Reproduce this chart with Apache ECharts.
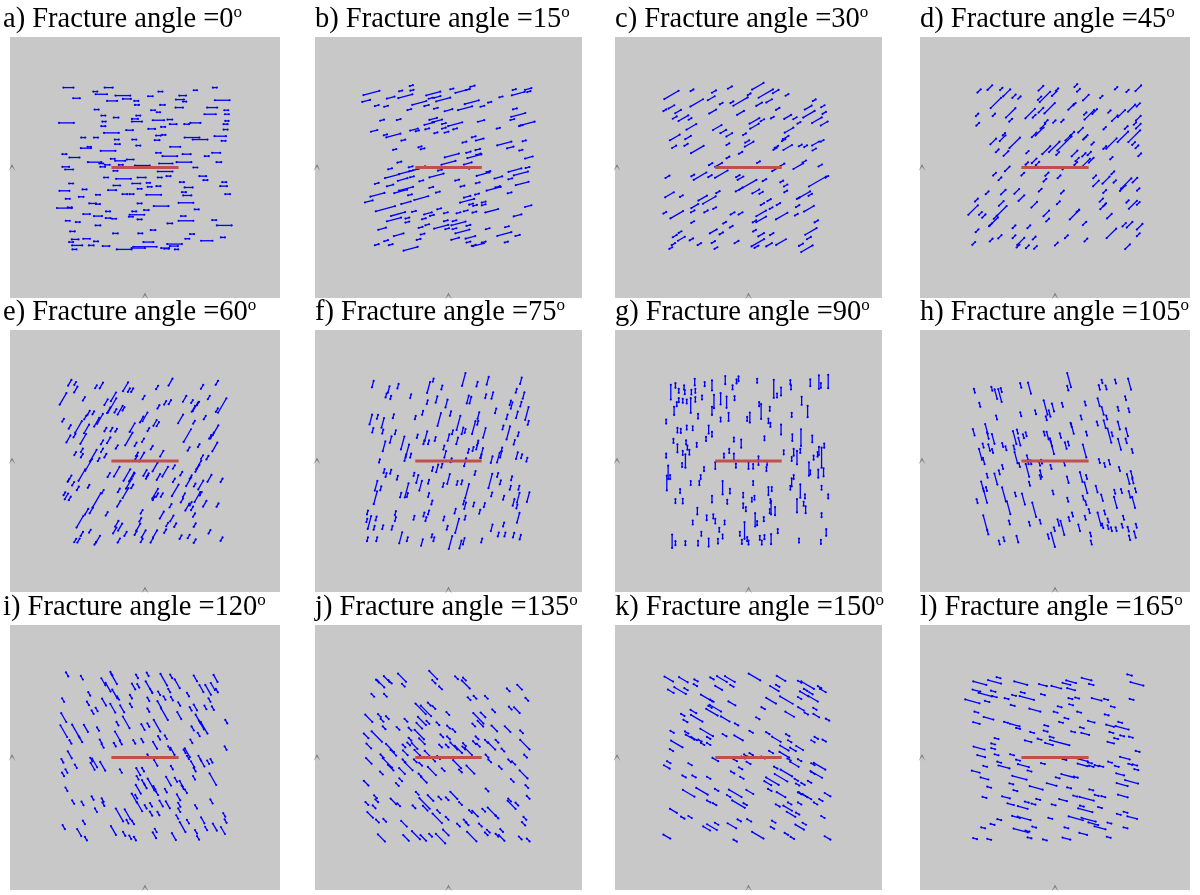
<!DOCTYPE html>
<html>
<head>
<meta charset="utf-8">
<title>Fracture angle panels</title>
<script src="https://cdn.jsdelivr.net/npm/echarts@6/dist/echarts.min.js"></script>
<style>
  html, body { margin: 0; padding: 0; background: #fff; }
  #chart { width: 1200px; height: 895px; }
</style>
</head>
<body>
<div id="chart"></div>
<script>
// panel labels and fracture orientation (degrees from horizontal)
const panelLabels = ['a', 'b', 'c', 'd', 'e', 'f', 'g', 'h', 'i', 'j', 'k', 'l'];
const angles = [0, 15, 30, 45, 60, 75, 90, 105, 120, 135, 150, 165];

// horizontal well (m), centred in the domain
const wellX = [-50, 50];

// fractures: [centre x, centre y, length], metres
const fracA = [[-114,120,15],[-54,120,12],[104,120,6],[-74,114,6],[23,114,6],[75,116,5],[-65,110,17],[-33,108,22],[8,107,7],[56,108,10],[-102,104,10],[-27,103,12],[115,101,22],[52,102,12],[-49,100,15],[-13,100,6],[59,99,5],[-12,94,6],[26,94,7],[100,90,15],[51,90,11],[-72,87,6],[12,86,6],[20,83,5],[121,86,6],[97,80,17],[-62,78,6],[-10,78,6],[122,80,6],[-43,75,7],[-15,73,9],[37,72,7],[20,71,17],[-117,67,22],[-61,69,5],[-12,69,15],[75,67,15],[122,70,5],[42,65,10],[62,65,7],[-62,62,6],[27,61,6],[120,65,6],[10,58,10],[-23,56,10],[120,57,6],[-50,52,22],[20,48,7],[28,49,5],[70,45,22],[82,42,22],[112,47,17],[-92,45,6],[-73,45,6],[-16,42,6],[18,41,7],[-42,42,6],[117,40,6],[-41,35,7],[-88,29,15],[-10,33,6],[45,31,15],[-83,31,5],[-55,25,22],[20,22,7],[106,22,12],[62,20,12],[-105,15,15],[-120,20,6],[37,17,22],[92,17,6],[-48,13,6],[-22,12,10],[-75,8,20],[-37,10,15],[58,8,22],[110,8,7],[-65,6,6],[-56,4,7],[-36,4,6],[-4,3,22],[31,6,20],[-118,1,10],[-63,1,7],[75,0,6],[-113,-3,12],[-44,-5,6],[30,-6,22],[-58,-15,6],[-32,-17,22],[-5,-15,12],[22,-15,6],[35,-13,6],[86,-13,10],[90,-19,6],[-110,-24,6],[-13,-24,12],[5,-23,5],[55,-22,6],[118,-22,6],[-42,-27,10],[7,-29,6],[20,-28,6],[65,-30,12],[117,-28,10],[-49,-34,12],[-120,-35,15],[-90,-33,6],[-8,-32,6],[58,-37,6],[-30,-40,7],[-20,-40,6],[13,-41,22],[63,-42,12],[-70,-41,6],[123,-40,7],[-95,-44,7],[-115,-47,6],[-78,-54,10],[-70,-55,6],[-8,-54,6],[24,-58,22],[61,-53,22],[-120,-61,22],[-112,-60,6],[77,-63,6],[-55,-66,6],[-16,-66,6],[2,-64,7],[-87,-70,10],[-70,-73,12],[-12,-71,22],[57,-73,7],[-21,-74,6],[-55,-76,7],[-46,-77,6],[-8,-78,6],[61,-80,22],[103,-79,6],[-115,-80,6],[-100,-82,6],[37,-84,7],[-70,-87,7],[118,-87,22],[12,-94,7],[-108,-96,7],[-44,-99,7],[-7,-99,6],[70,-100,6],[-104,-108,10],[-87,-107,10],[63,-107,6],[92,-110,17],[116,-105,6],[-110,-112,6],[-73,-111,6],[5,-112,15],[44,-115,22],[-101,-117,15],[-80,-117,7],[-58,-118,10],[0,-119,35],[43,-118,12],[30,-121,12],[-105,-123,6],[-31,-123,22],[-10,-121,20],[32,-122,7],[47,-123,5]];

const fracB = [[-116,112,25],[-124,100,12],[-87,105,12],[-65,107,22],[-72,115,5],[-55,116,5],[-56,123,5],[-23,111,22],[-17,106,10],[-27,104,6],[-8,102,22],[5,118,5],[21,115,22],[36,122,7],[29,117,6],[35,98,22],[62,98,5],[79,106,5],[99,117,5],[120,118,10],[105,111,20],[121,114,5],[-44,97,22],[-33,93,7],[-19,89,6],[-108,93,6],[-94,92,6],[-59,87,6],[0,86,12],[25,89,22],[51,92,6],[100,88,6],[105,79,22],[96,72,6],[-100,71,6],[-75,72,6],[-23,73,12],[-17,70,15],[-29,66,15],[-7,66,6],[10,65,22],[49,70,10],[119,66,22],[109,63,6],[-112,55,10],[-83,48,22],[-95,49,5],[-52,57,12],[-47,55,5],[-32,58,6],[-19,52,5],[-7,59,6],[-3,53,6],[10,58,6],[-68,41,6],[75,59,5],[38,46,6],[47,42,12],[24,38,6],[84,36,22],[93,30,10],[114,40,5],[-81,27,5],[-43,31,5],[-39,28,6],[30,23,7],[44,27,7],[109,26,5],[5,18,22],[39,17,22],[45,20,7],[121,15,12],[-74,8,6],[0,7,22],[29,6,12],[-88,-2,6],[-52,-4,15],[-64,-7,22],[-57,1,6],[-38,1,6],[34,-1,6],[45,0,6],[100,-4,20],[119,0,6],[-85,-13,22],[-69,-18,15],[-55,-14,6],[-18,-12,22],[-13,-4,6],[52,-10,20],[60,-6,6],[75,-15,12],[93,-17,6],[109,-9,22],[-108,-24,6],[-88,-27,10],[-64,-32,22],[-72,-36,20],[-41,-20,6],[-26,-30,6],[13,-19,6],[21,-28,6],[44,-23,6],[68,-32,22],[74,-29,7],[111,-24,20],[-107,-41,22],[-58,-41,6],[-41,-46,22],[-16,-37,6],[28,-44,10],[43,-40,6],[92,-38,6],[-120,-51,12],[-64,-53,15],[28,-50,22],[34,-55,6],[40,-57,6],[53,-52,6],[53,-56,6],[-95,-62,30],[-52,-66,6],[-31,-69,12],[-14,-62,6],[-4,-68,6],[15,-68,6],[26,-65,6],[39,-67,6],[65,-65,20],[104,-72,12],[120,-58,10],[-76,-70,22],[-82,-78,22],[-62,-76,6],[-62,-82,6],[-37,-77,6],[-32,-86,6],[-25,-72,6],[-4,-80,6],[9,-80,6],[30,-87,6],[15,-84,22],[-11,-89,22],[-100,-92,12],[-42,-90,6],[-2,-92,6],[9,-92,6],[21,-96,22],[59,-92,6],[88,-89,6],[84,-100,22],[-75,-101,15],[-39,-100,6],[33,-105,15],[10,-107,12],[104,-102,7],[-94,-110,6],[-87,-116,6],[-45,-108,6],[-108,-116,6],[-57,-122,22],[30,-112,6],[45,-116,17],[53,-112,6],[38,-117,6],[87,-112,5]];

const fracC = [[-116,109,25],[-85,116,5],[-52,114,7],[-28,120,7],[14,122,20],[1,110,5],[26,111,25],[41,114,10],[31,100,10],[58,109,5],[99,101,5],[-78,97,22],[-56,104,12],[-41,96,5],[-25,98,5],[-12,99,25],[16,95,10],[-116,91,10],[-126,86,5],[-106,84,10],[-111,75,7],[-98,74,17],[-88,73,5],[-54,84,12],[-12,82,12],[44,88,6],[90,90,12],[112,92,6],[91,80,20],[114,82,6],[9,70,17],[21,71,6],[36,75,5],[59,76,12],[70,74,6],[76,67,5],[103,71,17],[114,66,12],[-86,61,17],[-47,60,15],[-38,54,10],[-29,49,10],[9,62,15],[61,56,15],[56,45,10],[53,41,6],[-111,45,17],[-91,45,10],[-94,34,6],[-112,31,7],[-77,27,22],[-31,35,5],[-6,50,5],[-2,39,7],[1,35,15],[-12,22,6],[42,31,6],[40,28,6],[59,30,15],[78,33,5],[86,32,5],[101,36,12],[111,40,5],[99,27,6],[-31,15,5],[-57,5,6],[15,8,5],[40,-3,10],[51,4,7],[75,2,17],[84,9,6],[108,3,6],[-45,4,12],[-41,-10,22],[-73,-13,22],[-84,-12,5],[-58,-13,6],[-122,-14,7],[-16,-13,6],[-12,-16,10],[-1,-26,30],[24,-19,6],[-14,-33,12],[11,-36,12],[19,-38,6],[50,-21,5],[56,-27,6],[56,-36,5],[104,-21,30],[118,-14,5],[-69,-46,15],[-59,-49,22],[-46,-37,6],[-119,-41,15],[-101,-43,5],[84,-41,20],[93,-41,6],[75,-46,5],[31,-49,6],[21,-55,6],[34,-61,5],[45,-55,6],[74,-58,6],[91,-62,17],[-81,-58,12],[-84,-66,6],[-64,-66,6],[-51,-61,5],[-126,-68,5],[-108,-71,22],[-24,-69,7],[-12,-69,7],[19,-69,17],[19,-78,17],[50,-73,20],[-84,-82,5],[-36,-83,5],[-26,-89,5],[9,-81,6],[72,-71,5],[102,-81,6],[-111,-103,7],[-103,-97,5],[-101,-107,12],[-113,-115,6],[-117,-121,5],[-86,-108,6],[-53,-96,12],[-41,-99,6],[-74,-115,6],[-53,-112,6],[-49,-121,5],[-18,-112,7],[9,-95,5],[19,-101,10],[35,-100,6],[14,-113,22],[12,-119,7],[31,-116,10],[49,-112,17],[94,-96,20],[91,-106,7],[79,-116,7],[88,-122,20]];

const fracD = [[-113,115,7],[-97,120,10],[-80,118,5],[-72,112,15],[-61,107,7],[-53,105,5],[-88,97,22],[-66,82,20],[-66,71,6],[-21,119,10],[-23,104,7],[-15,106,22],[-1,111,10],[3,117,5],[-37,81,20],[-31,77,6],[-21,86,10],[-8,89,22],[31,123,6],[35,116,6],[46,105,12],[69,106,5],[24,91,12],[29,95,5],[51,79,20],[59,84,10],[45,81,5],[91,119,5],[108,115,5],[124,119,12],[81,84,5],[89,74,12],[99,81,15],[114,89,15],[124,94,7],[124,74,10],[119,66,5],[-116,79,5],[-115,65,6],[-91,79,5],[-13,69,6],[-18,62,10],[-23,54,17],[-31,49,10],[-1,69,5],[11,70,5],[38,56,10],[26,51,7],[44,44,6],[74,59,5],[106,60,6],[124,62,10],[118,47,25],[101,46,22],[84,36,22],[74,30,6],[117,36,6],[122,31,6],[126,19,6],[-92,39,12],[-78,44,12],[-76,50,5],[-60,37,22],[-86,25,6],[-73,21,10],[-41,23,5],[-31,10,10],[-26,6,7],[-13,26,17],[-1,31,22],[14,36,30],[19,44,10],[4,21,6],[29,21,12],[33,12,7],[31,6,6],[43,19,7],[46,7,17],[51,21,7],[54,11,10],[56,36,5],[46,46,7],[84,14,5],[-90,-10,6],[-82,-17,6],[-71,-2,10],[-48,-10,6],[-42,6,5],[-12,-10,7],[-15,-19,6],[6,-14,6],[13,-1,5],[59,-14,6],[61,-24,12],[76,-19,15],[86,-8,6],[89,-21,5],[106,-24,22],[101,-31,12],[119,-19,10],[124,-33,5],[-101,-38,6],[-77,-37,10],[-57,-36,10],[-50,-46,12],[-22,-34,6],[11,-37,6],[74,-36,6],[69,-49,7],[71,-59,10],[74,-56,6],[-122,-64,20],[-117,-49,6],[-111,-69,6],[-106,-73,7],[-80,-54,10],[-79,-65,20],[-89,-75,6],[-96,-86,6],[-91,-81,17],[-31,-56,12],[5,-53,6],[-13,-69,12],[-11,-79,6],[29,-71,20],[34,-65,5],[44,-84,7],[81,-73,10],[108,-51,5],[116,-56,17],[124,-54,6],[103,-86,7],[111,-86,12],[126,-89,12],[124,-101,6],[84,-99,20],[-116,-95,6],[-121,-114,6],[-95,-109,6],[-82,-104,7],[-61,-89,6],[-39,-89,6],[-61,-104,6],[-51,-111,15],[-55,-118,6],[-41,-119,6],[-31,-106,6],[-29,-120,6],[2,-115,6],[17,-104,6],[46,-109,6],[108,-119,10]];

const fracE = [[-112,117,10],[-104,116,5],[-122,93,20],[-103,107,10],[-73,111,5],[-65,113,10],[-91,93,6],[-29,111,15],[-24,106,6],[-19,106,6],[-2,95,6],[18,110,6],[38,118,12],[85,111,7],[107,117,7],[95,95,6],[59,93,10],[70,89,5],[79,86,6],[75,81,15],[72,78,10],[115,83,25],[107,76,6],[30,87,6],[37,88,7],[20,81,6],[-58,88,10],[-47,96,15],[-54,76,10],[-44,75,6],[-37,76,15],[-32,78,6],[-49,83,25],[-84,72,7],[-77,72,5],[-89,65,6],[-67,63,17],[-72,58,15],[-99,51,20],[-87,48,15],[-92,33,17],[-112,51,6],[-105,38,6],[-114,33,12],[-122,61,5],[-59,47,6],[-50,47,6],[-43,46,5],[-19,50,15],[-24,33,22],[-3,31,6],[-5,62,10],[0,66,15],[15,57,10],[19,55,7],[5,47,5],[53,63,15],[73,58,5],[63,38,22],[89,65,6],[100,38,10],[105,46,17],[97,36,6],[-64,28,7],[-54,31,10],[-42,21,6],[-14,25,6],[10,20,6],[25,11,10],[65,18,6],[80,23,5],[104,21,15],[-104,11,5],[-94,16,6],[-94,8,6],[-77,8,20],[-64,16,6],[-59,8,6],[-69,2,5],[-84,-6,20],[-12,10,6],[-5,6,15],[-13,5,6],[85,6,6],[93,5,6],[80,-6,15],[78,-11,12],[-94,-21,20],[-112,-26,10],[-107,-34,6],[-114,-29,5],[-84,-38,5],[-100,-41,6],[-54,-21,7],[-42,-16,17],[-39,-44,6],[-27,-21,20],[-20,-24,15],[-17,-21,6],[-24,-34,17],[-19,-38,6],[0,-18,10],[3,-24,6],[4,-21,6],[15,-9,15],[20,-24,10],[30,-16,17],[43,-9,6],[43,-29,6],[54,-19,6],[65,-31,15],[68,-24,6],[74,-36,5],[83,-36,15],[96,-26,12],[114,-29,6],[-63,-46,6],[-72,-59,25],[-80,-74,10],[-117,-53,10],[-120,-49,5],[-112,-56,6],[-29,-48,17],[-39,-64,10],[-57,-79,6],[15,-49,17],[13,-56,6],[25,-51,6],[18,-51,6],[45,-44,20],[58,-51,6],[55,-59,7],[63,-69,12],[68,-64,6],[78,-54,17],[83,-49,6],[89,-64,10],[70,-71,6],[108,-66,6],[38,-67,6],[-5,-76,6],[-7,-88,6],[-10,-99,12],[25,-81,12],[40,-86,10],[33,-95,6],[45,-96,6],[74,-96,6],[73,-81,6],[-97,-91,20],[-87,-76,10],[-82,-105,5],[-42,-94,10],[-37,-99,12],[-45,-104,10],[-29,-109,7],[-39,-119,7],[-70,-117,12],[-74,-123,5],[-94,-109,7],[-99,-119,7],[-104,-119,6],[-14,-108,6],[-2,-109,12],[-5,-119,6],[15,-109,12],[10,-119,7],[30,-105,6],[53,-114,6],[65,-113,6],[74,-120,6],[96,-106,6],[114,-117,6]];

const fracF = [[-114,115,10],[-90,107,10],[-94,98,6],[-87,95,5],[-76,112,7],[-57,97,6],[-30,110,17],[-23,121,5],[-32,88,6],[-18,92,10],[-10,110,6],[-3,86,12],[23,122,20],[43,115,7],[59,120,12],[66,98,10],[56,97,6],[29,92,12],[33,91,10],[109,120,10],[102,105,6],[113,98,10],[93,87,7],[109,85,7],[-117,62,15],[-107,66,6],[-99,57,15],[-114,46,7],[-83,67,6],[-50,65,5],[-39,72,6],[-14,62,20],[3,71,7],[15,57,22],[6,43,6],[0,35,10],[21,45,10],[25,45,6],[38,50,20],[45,68,10],[44,57,6],[54,42,15],[71,75,7],[82,50,6],[88,66,7],[90,42,20],[103,69,10],[105,40,6],[120,57,6],[118,71,20],[95,83,10],[-99,44,6],[-80,43,6],[-87,32,10],[-97,22,15],[-69,27,20],[-62,15,20],[-65,5,10],[-57,8,6],[-47,37,5],[-34,37,15],[-37,28,6],[-30,28,6],[-20,33,6],[-7,20,6],[-5,10,10],[4,1,6],[13,30,10],[30,15,6],[37,18,6],[25,-2,12],[43,22,10],[44,27,7],[50,12,15],[49,7,6],[65,2,10],[80,17,6],[75,5,15],[79,10,10],[103,8,10],[110,7,6],[118,2,6],[99,28,7],[-104,0,5],[-97,-15,6],[-94,-21,6],[-87,-16,6],[-77,-25,6],[-24,-12,6],[-17,-11,12],[-10,-7,6],[-52,-20,5],[-47,-27,12],[-42,-37,15],[-30,-31,6],[-8,-36,6],[0,-27,15],[13,-33,6],[20,-32,6],[28,-45,22],[40,-18,6],[63,-30,22],[65,-50,6],[78,-32,6],[74,-21,6],[95,-26,6],[93,-40,6],[106,-40,6],[105,-55,15],[98,-62,10],[103,-68,6],[83,-55,6],[120,-54,15],[-109,-37,15],[-102,-41,6],[-110,-55,20],[-72,-51,7],[-63,-44,22],[-62,-51,6],[-30,-51,6],[-25,-62,6],[10,-75,7],[25,-67,10],[23,-62,6],[38,-65,6],[54,-66,6],[47,-76,6],[-122,-77,6],[-119,-92,20],[-109,-86,6],[-112,-100,6],[-99,-99,6],[-123,-89,5],[-122,-117,6],[-108,-117,6],[-80,-78,6],[-80,-87,6],[-85,-100,6],[-72,-115,17],[-62,-117,6],[-52,-85,6],[-37,-80,6],[-30,-77,6],[-34,-87,6],[-40,-122,10],[-22,-117,6],[-25,-112,5],[-7,-86,6],[-2,-100,6],[3,-122,20],[13,-97,22],[25,-85,6],[23,-120,10],[18,-125,12],[50,-119,6],[65,-100,10],[75,-110,6],[83,-95,6],[85,-110,6],[98,-111,7],[105,-85,15],[108,-114,7]];

const fracG = [[-117,103,22],[-110,113,7],[-105,105,6],[-97,110,6],[-96,103,6],[-86,103,7],[-81,118,10],[-80,105,6],[-66,115,6],[-55,113,15],[-35,121,12],[-24,110,6],[-18,119,6],[-15,123,7],[13,120,6],[38,108,27],[43,98,6],[49,104,12],[63,118,6],[64,110,6],[93,117,10],[106,118,20],[109,113,7],[120,119,20],[-112,75,12],[-108,85,6],[-105,91,6],[-99,90,6],[-93,89,6],[-87,83,22],[-80,92,7],[-70,95,6],[-76,67,7],[-55,75,12],[-52,89,20],[-42,93,17],[-33,88,17],[-21,94,6],[-42,62,6],[-30,66,12],[-2,63,6],[2,65,15],[19,74,22],[16,85,6],[32,78,6],[30,60,7],[33,54,6],[49,47,15],[65,69,6],[80,90,12],[89,74,17],[-124,59,6],[-107,46,7],[-102,45,6],[-93,50,6],[-84,49,6],[-60,47,12],[-55,40,7],[-64,33,6],[-113,30,6],[-107,19,12],[-94,28,6],[-92,20,6],[-89,13,7],[-99,12,6],[-78,24,6],[-95,0,20],[-100,-6,6],[-124,8,6],[-121,-17,20],[-123,-33,22],[-118,-24,6],[-22,32,6],[-11,26,12],[24,34,6],[-29,15,6],[-37,8,6],[-22,6,10],[-19,-7,6],[-50,-7,10],[0,-7,10],[7,-8,7],[15,4,6],[15,-3,6],[28,-3,6],[27,-12,6],[53,13,6],[66,35,10],[79,35,25],[96,33,10],[68,13,10],[73,5,20],[65,3,6],[78,15,6],[110,5,30],[106,15,12],[104,10,7],[114,23,6],[91,-12,20],[93,-17,6],[98,5,6],[105,-19,12],[113,-17,12],[-67,-12,6],[-72,-24,6],[-74,-33,6],[-87,-33,6],[-39,-40,20],[-28,-45,7],[7,-33,6],[-103,-45,6],[-110,-60,6],[-99,-60,7],[-55,-57,10],[-32,-61,6],[-8,-51,7],[-8,-67,7],[-4,-72,6],[5,-58,6],[9,-55,6],[30,-45,12],[35,-42,6],[33,-60,6],[34,-70,20],[40,-75,12],[32,-75,6],[65,-32,12],[68,-24,6],[63,-40,6],[78,-45,20],[85,-53,6],[73,-67,20],[83,-64,6],[86,-73,10],[110,-40,6],[120,-53,6],[-77,-75,10],[-63,-85,7],[-53,-83,6],[-50,-90,7],[-84,-92,6],[-36,-92,6],[10,-88,20],[13,-93,6],[23,-87,6],[-6,-104,25],[-2,-117,6],[0,-122,6],[-13,-109,6],[-44,-103,6],[-39,-113,6],[-71,-109,6],[-115,-120,20],[-110,-123,6],[-95,-123,6],[-76,-123,7],[-60,-122,12],[-46,-120,7],[-10,-121,6],[17,-115,6],[20,-122,6],[24,-114,6],[34,-117,15],[44,-105,6],[76,-119,6],[109,-121,6],[117,-107,10],[110,-81,6]];

const fracH = [[-120,105,6],[-112,84,6],[-94,108,6],[-88,100,15],[-82,98,20],[-80,106,6],[-51,113,7],[-38,109,17],[21,121,22],[19,109,7],[66,110,7],[76,110,6],[70,119,5],[90,119,6],[111,115,17],[105,94,6],[65,88,12],[71,75,12],[77,65,6],[94,78,6],[110,76,6],[45,86,6],[39,65,6],[11,84,6],[-3,80,12],[-14,80,22],[-8,71,10],[-13,64,6],[-29,73,6],[-51,70,6],[-87,65,6],[63,56,6],[74,55,12],[95,53,12],[81,38,22],[85,40,6],[107,43,12],[96,25,17],[106,30,7],[115,15,6],[24,54,6],[26,48,15],[47,41,6],[8,38,7],[-11,38,12],[-16,41,6],[16,23,10],[20,26,6],[44,15,20],[-6,28,12],[-4,20,20],[-56,44,6],[-60,35,20],[-53,29,12],[-43,40,6],[-47,37,6],[-121,43,10],[-102,48,15],[-100,38,10],[-92,33,15],[-107,23,6],[-98,20,10],[-93,15,6],[-78,24,6],[-73,19,6],[-61,20,6],[-111,10,17],[-106,0,10],[-58,5,17],[-53,-6,6],[-41,5,7],[-40,-2,6],[-36,-2,6],[-41,-14,20],[-38,-34,6],[-23,-4,6],[-20,-1,6],[-21,-19,10],[-22,-24,6],[-6,-9,6],[14,-4,6],[66,0,6],[74,-6,6],[81,-2,7],[96,-12,6],[-101,-22,6],[-88,-27,17],[-83,-17,6],[-78,-9,6],[-108,-38,15],[-104,-52,22],[-102,-42,6],[-116,-60,6],[-76,-50,22],[-59,-50,6],[-69,-70,20],[-47,-57,17],[-31,-73,22],[-22,-91,6],[-3,-47,6],[19,-58,6],[19,-28,10],[39,-24,15],[47,-24,6],[46,-40,17],[42,-55,6],[46,-63,6],[51,-75,6],[45,-85,6],[62,-42,10],[70,-55,10],[66,-87,20],[74,-77,6],[79,-99,6],[89,-46,6],[90,-62,17],[99,-45,6],[109,-27,15],[114,-20,10],[116,-30,7],[120,-44,6],[117,-62,17],[102,-85,6],[109,-102,7],[121,-97,6],[111,-115,7],[119,-110,10],[111,-50,10],[-104,-92,22],[-100,-107,6],[-83,-122,6],[-76,-117,6],[-68,-92,6],[-56,-117,10],[-38,-94,6],[-10,-113,7],[-3,-118,22],[5,-92,10],[-1,-102,6],[11,-100,22],[21,-87,6],[26,-80,6],[36,-100,10],[53,-110,6],[54,-122,6],[71,-97,7],[84,-102,6],[91,-102,6],[100,-97,6],[79,-89,6]];

const fracI = [[-116,123,7],[-94,118,6],[-62,112,12],[-46,116,17],[-50,124,6],[-55,104,15],[-45,94,15],[-40,88,6],[-17,105,10],[-10,106,6],[-12,120,6],[4,123,6],[6,104,20],[9,99,6],[28,115,20],[39,120,6],[48,109,15],[36,99,6],[75,117,10],[84,102,12],[94,100,17],[105,117,12],[101,105,12],[107,99,6],[-83,94,6],[-21,90,6],[5,86,6],[21,95,6],[29,88,6],[40,87,6],[64,93,6],[96,85,6],[-122,85,6],[-85,80,6],[-78,67,6],[-72,71,6],[-61,82,12],[-48,73,15],[-34,72,12],[-21,77,6],[5,70,6],[21,79,10],[51,79,6],[51,62,12],[68,72,6],[75,74,10],[79,57,15],[90,74,6],[101,73,6],[-121,59,15],[-121,39,20],[-103,39,22],[-88,43,12],[-70,42,6],[-41,50,6],[-28,52,20],[-3,45,10],[5,48,6],[18,47,20],[29,64,20],[21,29,6],[31,30,6],[71,43,7],[84,48,15],[88,44,20],[80,34,6],[121,53,6],[-111,23,6],[-96,27,10],[-66,24,6],[-63,17,6],[-41,32,15],[-45,19,6],[-36,22,6],[-16,23,6],[-4,25,6],[15,18,12],[36,14,6],[41,9,12],[59,9,6],[63,7,15],[69,24,6],[120,14,6],[-112,4,12],[-123,-5,6],[-103,-13,6],[-80,-3,6],[-78,-13,12],[-75,-8,15],[-63,-13,15],[-36,-20,6],[-122,-25,6],[-117,-20,6],[-10,-21,12],[-3,-18,6],[5,2,6],[16,-8,10],[9,-40,20],[40,-15,6],[64,0,6],[71,-10,10],[74,-18,6],[86,-9,10],[94,-7,6],[99,-5,6],[81,0,6],[73,-30,6],[101,-32,20],[-11,-30,6],[-3,-36,6],[35,-35,15],[46,-33,7],[54,-39,10],[56,-44,6],[61,-50,6],[-117,-47,6],[-10,-47,15],[-13,-58,6],[1,-43,6],[14,-45,6],[18,-53,6],[31,-49,6],[50,-59,10],[51,-70,7],[-78,-60,6],[-63,-63,6],[-62,-69,6],[-93,-68,6],[-107,-66,6],[-16,-60,15],[-8,-73,15],[1,-73,6],[9,-70,6],[24,-68,10],[34,-70,12],[51,-78,6],[76,-73,6],[99,-65,7],[118,-85,6],[120,-94,6],[-73,-78,6],[-38,-85,22],[-26,-84,17],[-18,-96,6],[-121,-103,7],[-98,-111,12],[-91,-96,6],[-47,-108,15],[-31,-113,7],[-22,-118,6],[-15,-120,6],[-26,-95,6],[9,-83,7],[20,-83,6],[48,-88,6],[56,-103,17],[64,-95,6],[76,-110,6],[86,-93,10],[91,-105,6],[104,-103,12],[116,-108,12],[79,-119,6],[43,-117,12],[14,-115,10],[16,-108,6],[-88,-120,6]];

const fracJ = [[-102,109,15],[-107,113,6],[-93,116,12],[-88,112,7],[-70,118,17],[-68,107,6],[-23,122,17],[-22,112,7],[-12,103,6],[12,118,6],[24,116,6],[26,108,17],[-114,92,6],[-95,92,6],[31,87,6],[40,89,6],[57,89,6],[90,100,6],[107,104,10],[118,86,6],[-42,72,22],[-34,69,22],[-29,79,6],[-22,74,6],[-1,65,6],[45,58,22],[52,63,10],[48,50,12],[38,48,6],[68,69,6],[93,73,6],[103,70,12],[-120,58,15],[-104,62,6],[-100,55,6],[-92,59,6],[-64,55,6],[-40,54,17],[-44,47,12],[-31,52,6],[-16,50,6],[0,45,6],[8,40,6],[-58,42,6],[-76,43,6],[-97,44,6],[-124,32,10],[-108,31,22],[-88,14,17],[-83,7,12],[-120,17,10],[-44,34,20],[-40,24,12],[-58,27,6],[-60,20,6],[-51,17,12],[-67,17,6],[-65,7,10],[-47,7,12],[-10,32,6],[0,29,6],[-12,17,6],[-2,17,6],[8,17,15],[15,12,15],[23,14,6],[30,9,15],[24,19,6],[43,29,6],[39,22,6],[45,18,6],[57,24,6],[65,17,15],[73,24,6],[82,11,6],[89,42,12],[69,43,12],[110,38,6],[115,19,20],[116,2,6],[58,2,6],[-120,-5,12],[-100,2,7],[-92,-8,20],[-87,-15,12],[-60,-13,17],[-67,-5,6],[-50,-5,6],[-42,-10,6],[-28,2,22],[-25,-20,17],[-15,0,6],[-8,-18,6],[13,-10,17],[18,-20,6],[33,-18,17],[62,-5,6],[78,-15,6],[92,-5,6],[98,-8,7],[-124,-38,10],[-101,-23,6],[-70,-20,12],[-77,-40,6],[-72,-33,6],[-43,-26,6],[-37,-33,12],[58,-48,6],[96,-34,6],[113,-25,17],[118,-43,6],[-110,-58,6],[-108,-64,6],[-112,-73,6],[-123,-68,6],[-83,-65,12],[-75,-70,6],[-47,-53,6],[-27,-60,12],[-36,-68,22],[-35,-75,10],[-52,-73,6],[-15,-80,6],[-13,-60,6],[-2,-61,6],[8,-56,15],[18,-68,6],[33,-80,6],[40,-83,12],[25,-94,6],[15,-100,6],[53,-78,6],[65,-80,17],[73,-88,6],[92,-63,6],[95,-70,17],[103,-69,6],[120,-59,6],[-118,-85,12],[-107,-94,6],[-96,-93,6],[-67,-98,12],[-17,-90,20],[-2,-90,6],[28,-98,6],[48,-100,6],[60,-109,6],[80,-108,6],[115,-90,6],[113,-98,7],[-101,-119,15],[-64,-119,12],[-49,-115,17],[-38,-119,12],[-27,-115,6],[-4,-111,12],[-12,-120,20],[35,-117,20],[57,-113,6],[73,-115,6],[80,-119,12],[108,-119,6],[120,-122,6]];

const fracK = [[-120,116,15],[-98,115,15],[-79,114,6],[-80,107,6],[-103,99,20],[-117,98,10],[-94,101,6],[-55,117,6],[-40,116,17],[-28,116,17],[-45,103,12],[-25,106,6],[9,119,20],[49,117,15],[39,102,15],[44,106,6],[77,112,6],[89,107,22],[86,100,6],[107,104,6],[112,99,10],[-63,88,20],[-55,84,6],[-50,73,20],[-58,75,6],[-25,80,12],[-55,67,20],[-35,57,15],[-18,49,6],[34,84,17],[57,85,22],[77,88,6],[84,94,15],[97,87,17],[94,95,6],[22,73,6],[62,64,15],[79,72,10],[87,65,6],[102,62,10],[100,72,6],[119,56,6],[14,58,6],[-83,68,10],[-78,58,20],[-99,63,6],[-95,54,7],[-115,38,6],[-93,37,6],[-88,30,15],[-63,37,22],[-60,29,6],[-36,33,7],[-15,29,15],[4,38,6],[29,36,6],[42,27,15],[59,33,6],[62,24,6],[54,14,15],[67,12,10],[77,14,12],[102,29,6],[114,25,6],[97,24,6],[-108,20,20],[-116,11,6],[-73,25,6],[-82,28,10],[-69,20,6],[-60,20,6],[-4,3,6],[4,5,6],[-8,0,6],[-20,-4,6],[0,-8,7],[34,8,7],[22,0,6],[54,4,17],[61,-3,6],[69,-10,15],[77,-4,6],[-50,-3,10],[-120,-7,6],[-123,-14,10],[-88,-10,6],[-97,-28,6],[-82,-28,6],[-60,-30,6],[-24,-22,6],[-12,-16,6],[-10,-30,6],[41,-15,6],[57,-23,20],[49,-30,22],[97,-10,6],[107,-13,20],[97,-23,6],[102,-25,20],[36,-35,22],[29,-38,12],[74,-40,6],[82,-39,6],[92,-36,6],[72,-33,6],[-90,-53,20],[-70,-50,20],[-48,-48,6],[-60,-65,6],[-51,-69,6],[-30,-57,6],[-20,-53,22],[-15,-69,22],[-5,-69,6],[2,-51,12],[32,-48,6],[49,-55,15],[77,-53,6],[82,-55,15],[88,-58,15],[101,-68,6],[109,-63,6],[119,-55,10],[-113,-79,12],[-99,-89,6],[-88,-88,6],[-55,-103,17],[-48,-98,6],[-63,-105,12],[-25,-101,15],[-14,-93,6],[1,-93,7],[14,-115,20],[-20,-123,6],[38,-95,6],[36,-104,6],[44,-71,7],[59,-75,15],[74,-83,6],[77,-68,6],[62,-68,6],[64,-84,15],[77,-103,15],[84,-98,6],[112,-88,6],[57,-113,6],[66,-119,6],[119,-119,10],[-123,-117,12]];

const fracL = [[-84,118,6],[-112,110,20],[-90,112,20],[-117,99,12],[-104,93,20],[-92,98,7],[-90,90,7],[-123,83,22],[-101,83,7],[-72,87,6],[-61,92,6],[-51,110,20],[-18,107,12],[2,104,15],[17,109,12],[24,112,15],[24,101,12],[47,116,15],[54,108,7],[111,122,7],[122,109,20],[-42,88,22],[-48,96,6],[-18,93,6],[23,87,6],[33,88,6],[62,86,15],[76,86,6],[114,86,6],[-63,77,6],[-30,70,17],[7,75,6],[1,67,6],[24,78,6],[36,67,6],[77,63,6],[86,75,6],[-117,67,6],[-99,58,15],[-117,51,10],[-73,52,6],[-60,48,15],[-55,43,6],[-13,47,6],[-14,39,6],[9,52,6],[17,58,6],[40,44,6],[54,53,10],[82,47,12],[97,52,6],[100,44,20],[27,38,6],[45,35,12],[-34,37,6],[-87,28,6],[-40,24,10],[-23,27,6],[-5,30,6],[7,22,30],[-9,20,12],[84,37,6],[91,28,6],[100,32,6],[113,30,6],[83,22,10],[123,9,6],[-113,14,17],[-92,20,6],[-92,13,6],[-87,4,6],[-64,4,6],[-110,2,12],[-55,-4,6],[-47,-12,17],[-83,-7,6],[-76,-14,17],[-18,-9,6],[14,-3,6],[38,-3,22],[52,-8,6],[41,-11,15],[54,-13,7],[62,-12,6],[69,-13,6],[82,-7,6],[92,-13,6],[104,-1,15],[112,-10,6],[119,-11,7],[121,-18,6],[-118,-21,12],[-104,-13,6],[-105,-31,12],[-53,-30,22],[-38,-20,6],[-5,-40,15],[4,-30,6],[19,-27,20],[31,-29,6],[54,-48,6],[97,-25,12],[100,-40,17],[114,-36,20],[-98,-44,6],[-65,-39,6],[-28,-45,20],[21,-45,6],[-59,-49,6],[-105,-59,6],[-73,-59,12],[-66,-69,10],[-48,-74,15],[-42,-66,6],[-32,-69,6],[-25,-62,6],[-2,-70,6],[12,-63,12],[30,-57,6],[47,-61,22],[62,-56,6],[72,-58,6],[101,-57,15],[40,-72,6],[45,-78,22],[67,-74,6],[-83,-92,6],[-93,-99,6],[-58,-88,12],[-46,-90,20],[-51,-108,22],[-31,-103,6],[-41,-109,6],[-7,-90,6],[31,-90,22],[50,-92,22],[57,-98,15],[67,-104,17],[81,-97,6],[95,-84,6],[105,-81,6],[115,-89,15],[105,-104,6],[-107,-104,6],[17,-104,6],[42,-113,12],[-38,-119,6],[-15,-122,6],[17,-120,12],[80,-118,6],[-119,-120,6],[-98,-121,6]];

const fracData = [fracA, fracB, fracC, fracD, fracE, fracF, fracG, fracH, fracI, fracJ, fracK, fracL];

// layout of the 4 x 3 panels (pixels)
const colLeft = [10, 315, 615, 920];
const colWidth = [270, 267, 267, 270];
const titleLeft = [3, 315, 615, 920];
const rowTop = [37, 330, 625];
const rowHeight = [261, 262, 265];

const xMin = -201, xMax = 201, yMin = -196, yMax = 196;

function makeRender(deg) {
  const c = Math.cos(deg * Math.PI / 180);
  const s = Math.sin(deg * Math.PI / 180);
  return function (params, api) {
    const x = api.value(0), y = api.value(1), h = api.value(2) / 2;
    const p1 = api.coord([x - h * c, y - h * s]);
    const p2 = api.coord([x + h * c, y + h * s]);
    return {
      type: 'group',
      children: [
        { type: 'line', shape: { x1: p1[0], y1: p1[1], x2: p2[0], y2: p2[1] }, style: { stroke: '#0000ff', lineWidth: 1.3 } },
        { type: 'circle', shape: { cx: p1[0], cy: p1[1], r: 1.1 }, style: { fill: '#0000ff' } },
        { type: 'circle', shape: { cx: p2[0], cy: p2[1], r: 1.1 }, style: { fill: '#0000ff' } }
      ]
    };
  };
}

const grids = [], xAxes = [], yAxes = [], series = [], titles = [];

panelLabels.forEach((lab, i) => {
  const col = i % 4, row = Math.floor(i / 4);
  grids.push({
    left: colLeft[col], top: rowTop[row], width: colWidth[col], height: rowHeight[row],
    show: true, backgroundColor: '#c8c8c8', borderWidth: 0
  });
  xAxes.push({ type: 'value', gridIndex: i, min: xMin, max: xMax, show: false });
  yAxes.push({ type: 'value', gridIndex: i, min: yMin, max: yMax, show: false });
  titles.push({
    text: '{t|' + lab + ') Fracture angle =' + angles[i] + '}{s|o}',
    left: titleLeft[col],
    top: rowTop[row] - 33,
    padding: 0,
    textStyle: {
      rich: {
        t: { fontFamily: 'Liberation Serif', fontSize: 28.5, fontWeight: 'normal', color: '#000', lineHeight: 32 },
        s: { fontFamily: 'Liberation Serif', fontSize: 17, fontWeight: 'normal', color: '#000', verticalAlign: 'top', lineHeight: 17 }
      }
    }
  });
  series.push({
    type: 'custom',
    xAxisIndex: i, yAxisIndex: i,
    renderItem: makeRender(angles[i]),
    encode: { x: 0, y: 1 },
    data: fracData[i],
    silent: true
  });
  series.push({
    type: 'line',
    xAxisIndex: i, yAxisIndex: i,
    data: [[wellX[0], 0], [wellX[1], 0]],
    symbol: 'none',
    lineStyle: { color: '#c0504d', width: 3 },
    silent: true,
    z: 5
  });
  // small axis arrow marks at left-middle and bottom-middle of the box
  series.push({
    type: 'scatter',
    xAxisIndex: i, yAxisIndex: i,
    data: [[xMin + 3, 0], [0, yMin + 3]],
    symbol: 'path://M0,10 L5,0 L10,10 L5,4 Z',
    symbolSize: [7, 7],
    itemStyle: { color: '#6e6e6e' },
    silent: true
  });
});

const chart = echarts.init(document.getElementById('chart'));
chart.setOption({
  animation: false,
  backgroundColor: '#fff',
  title: titles,
  grid: grids,
  xAxis: xAxes,
  yAxis: yAxes,
  series: series
});
</script>
</body>
</html>
